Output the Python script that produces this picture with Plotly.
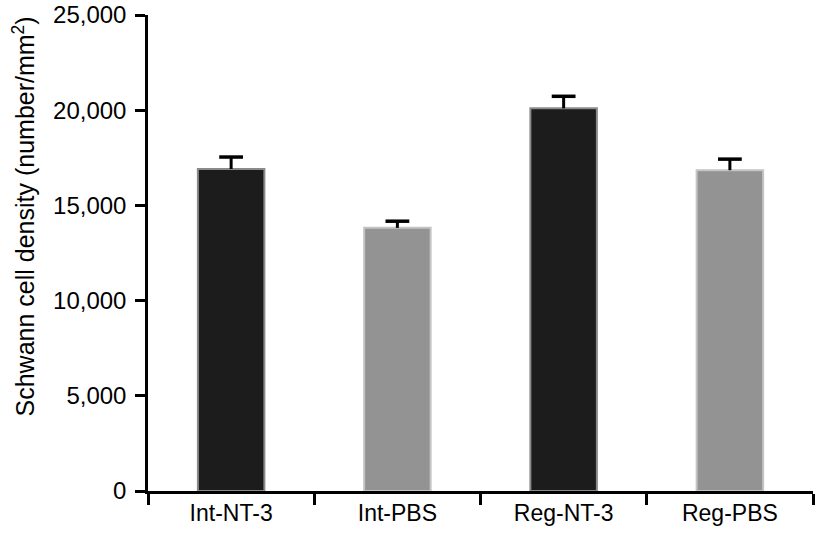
import plotly.graph_objects as go

groups = ['Int-NT-3', 'Int-PBS', 'Reg-NT-3', 'Reg-PBS']
density = [16910, 13820, 20100, 16850]
sem = [630, 350, 630, 580]
fill_colors = ['#1c1c1c', '#939393', '#1c1c1c', '#939393']
edge_colors = ['#8a8a8a', '#c4c4c4', '#8a8a8a', '#c4c4c4']
y_ticks = [0, 5000, 10000, 15000, 20000, 25000]

font = 'Liberation Sans, Arial, Helvetica, sans-serif'

# one-sided (upper) error bars: stem + cap
stem_x, stem_y = [], []
for g, d, s in zip(groups, density, sem):
    stem_x += [g, g, None]
    stem_y += [d, d + s, None]
tops = [d + s for d, s in zip(density, sem)]

fig = go.Figure()
fig.add_trace(go.Bar(
    x=groups, y=density, width=0.4,
    marker=dict(color=fill_colors, line=dict(color=edge_colors, width=2)),
))
fig.add_trace(go.Scatter(
    x=stem_x, y=stem_y, mode='lines',
    line=dict(color='black', width=3), hoverinfo='skip',
))
fig.add_trace(go.Scatter(
    x=groups, y=tops, mode='markers',
    marker=dict(symbol='line-ew', size=17, line=dict(color='black', width=3.5)),
))

fig.update_layout(
    width=819, height=536,
    margin=dict(l=148, r=6, t=15, b=45, autoexpand=False),
    paper_bgcolor='white', plot_bgcolor='white',
    font=dict(family=font, size=23, color='black'),
    showlegend=False,
    annotations=[dict(
        text='Schwann cell density (number/mm<sup>2</sup>)',
        textangle=-90, xref='paper', yref='paper', x=-0.187, y=0.576,
        xanchor='center', yanchor='middle', showarrow=False,
        font=dict(family=font, size=25, color='black'),
    )],
)
fig.update_xaxes(
    range=[-0.5, 3.5], showline=True, linecolor='black', linewidth=2.5,
    ticks='outside', tickson='boundaries', ticklen=11, tickwidth=2.5,
    tickcolor='black', showgrid=False, zeroline=False, automargin=False,
)
fig.update_yaxes(
    range=[0, 25000], tickvals=y_ticks, tickformat=',',
    tickfont=dict(size=24),
    showline=True, linecolor='black', linewidth=2.5,
    ticks='outside', ticklen=10, tickwidth=2.5, tickcolor='black',
    ticklabelstandoff=4, ticklabeloverflow='allow',
    showgrid=False, zeroline=False, automargin=False,
)

# drop the default page margin so the figure fills the window exactly
fig.write_html('out.html', config={'displayModeBar': False},
               post_script="document.body.style.margin='0';")
